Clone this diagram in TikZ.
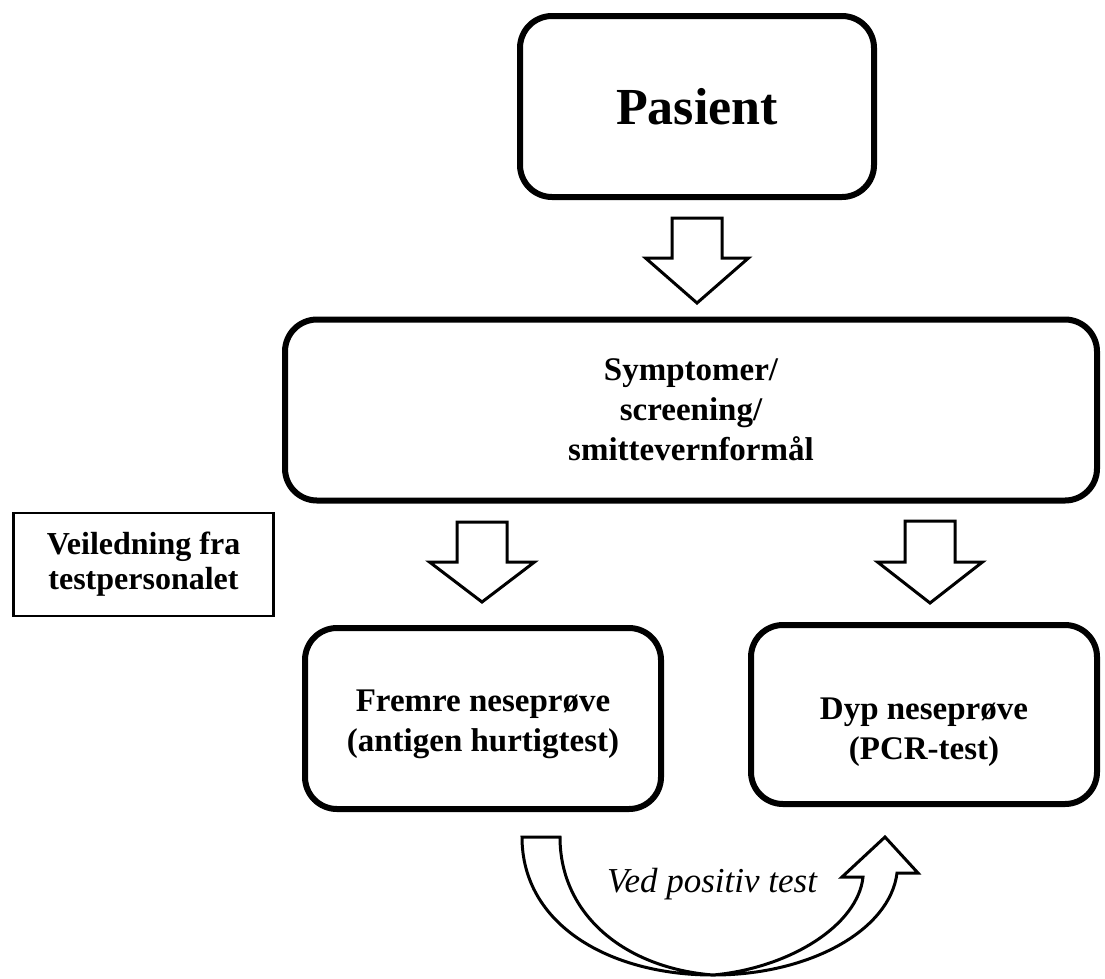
\documentclass[tikz,border=0pt]{standalone}
\usepackage{fontspec}
\setmainfont{Liberation Serif}
\usetikzlibrary{positioning}

\begin{document}
\begin{tikzpicture}[x=1pt,y=-1pt,
    rbox/.style={draw, line width=6pt, rounded corners=32pt},
    txt/.style={align=center, font=\bfseries\fontsize{33}{40}\selectfont},
    sbox/.style={draw, line width=2.5pt, align=center,
      font=\bfseries\fontsize{32}{35}\selectfont},
    blk/.style={draw, line width=3pt, fill=white, line join=miter}]
      %\draw[help lines] (0,0) grid[step=50] (1105,978);
      \useasboundingbox (0,0) rectangle (1105,978);

      \node[rbox, minimum width=354pt, minimum height=181pt,
        font=\bfseries\fontsize{52}{60}\selectfont] (pasient) at (697,106.5) {Pasient};
      \node[rbox, txt, minimum width=812pt, minimum height=181pt] (sympt) at (691,410)
        {Symptomer/\\screening/\\smittevernformål};
      \node[sbox, minimum width=260pt, minimum height=103pt] (veil) at (143.5,564.5)
        {Veiledning fra\\testpersonalet};

      \node[rbox, minimum width=356pt, minimum height=181pt] (fremre) at (483,718.5) {};
      \node[txt] (fremre-txt) at ([yshift=-6pt]fremre.center) {Fremre neseprøve\\(antigen hurtigtest)};
      \node[rbox, minimum width=346pt, minimum height=179pt] (dyp) at (924,714.5) {};
      \node[txt] (dyp-txt) at ([yshift=-18pt]dyp.center) {Dyp neseprøve\\(PCR-test)};

      \coordinate (a1) at (697,218);
      \coordinate (a2) at (482,522);
      \coordinate (a3) at (930,521);

      \draw[blk] (a1) ++(-25,0) -- ++(50,0) -- ++(0,40) -- ++(26.5,0) -- ++(-51.5,45) -- ++(-51.5,-45) -- ++(26.5,0) -- cycle;
      \draw[blk] (a2) ++(-25,0) -- ++(50,0) -- ++(0,40) -- ++(27.5,0) -- ++(-52.5,40) -- ++(-52.5,-40) -- ++(27.5,0) -- cycle;
      \draw[blk] (a3) ++(-25,0) -- ++(50,0) -- ++(0,41) -- ++(27.5,0) -- ++(-52.5,41) -- ++(-52.5,-41) -- ++(27.5,0) -- cycle;

      % curved arrow back to the PCR box
      \coordinate (tail) at (522,837);
      \coordinate (tip) at (885,837);
      \draw[blk] (tail) .. controls (522,925) and (610,975) .. (713,975)
        .. controls (810,975) and (890,930) .. (897,873)
        -- (918,873) -- (tip) -- (842,877) -- (863,877)
        .. controls (858,925) and (790,968) .. (713,975)
        .. controls (625,968) and (560,915) .. (560,837) -- cycle;

      \node[anchor=base, font=\itshape\fontsize{35}{40}\selectfont] (ved) at (712,892) {Ved positiv test};
\end{tikzpicture}
\end{document}
